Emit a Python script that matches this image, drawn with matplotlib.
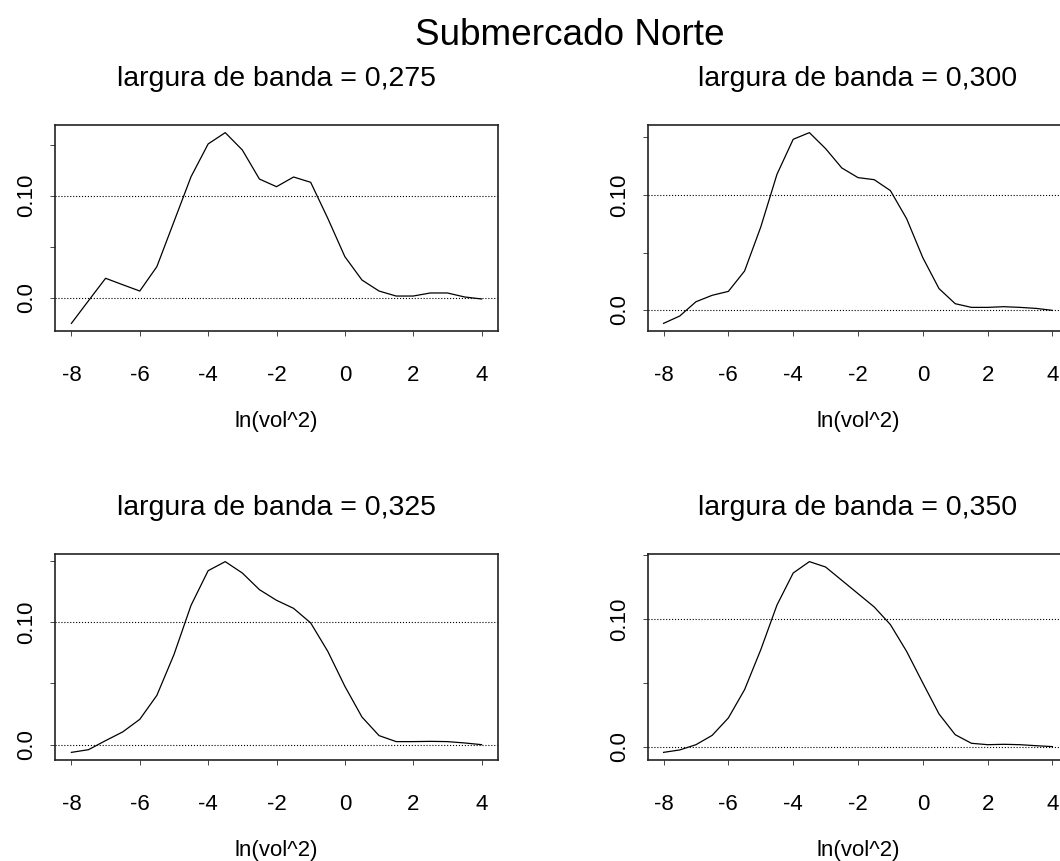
import numpy as np
import matplotlib
matplotlib.use("Agg")
from matplotlib import pyplot as plt

plt.rcParams["font.family"] = ["Liberation Sans", "DejaVu Sans"]

# evaluation grid of ln(vol^2)
x_grid = [-8.0, -7.5, -7.0, -6.5, -6.0, -5.5, -5.0, -4.5, -4.0, -3.5, -3.0, -2.5,
          -2.0, -1.5, -1.0, -0.5, 0.0, 0.5, 1.0, 1.5, 2.0, 2.5, 3.0, 3.5, 4.0]

bandwidths = ["0,275", "0,300", "0,325", "0,350"]

dens_275 = [-0.0252, -0.0030, 0.0190, 0.0127, 0.0065, 0.0304, 0.0745, 0.1186, 0.1507,
            0.1618, 0.1448, 0.1163, 0.1088, 0.1183, 0.1131, 0.0778, 0.0402, 0.0173,
            0.0065, 0.0016, 0.0016, 0.0046, 0.0046, 0.0007, -0.0013]
dens_300 = [-0.0116, -0.0052, 0.0072, 0.0128, 0.0162, 0.0339, 0.0722, 0.1180, 0.1484,
            0.1542, 0.1403, 0.1235, 0.1151, 0.1133, 0.1038, 0.0794, 0.0455, 0.0186,
            0.0055, 0.0023, 0.0023, 0.0029, 0.0023, 0.0014, -0.0003]
dens_325 = [-0.0063, -0.0041, 0.0033, 0.0104, 0.0207, 0.0403, 0.0736, 0.1139, 0.1422,
            0.1496, 0.1403, 0.1267, 0.1180, 0.1114, 0.0995, 0.0763, 0.0477, 0.0226,
            0.0074, 0.0025, 0.0025, 0.0027, 0.0025, 0.0014, 0.0000]
dens_350 = [-0.0042, -0.0023, 0.0018, 0.0091, 0.0227, 0.0448, 0.0760, 0.1109, 0.1359,
            0.1448, 0.1406, 0.1302, 0.1198, 0.1094, 0.0956, 0.0747, 0.0500, 0.0258,
            0.0096, 0.0029, 0.0018, 0.0021, 0.0018, 0.0010, 0.0003]

x_ticks = [-8, -6, -4, -2, 0, 2, 4]
y_ticks = [0.0, 0.05, 0.10, 0.15]
y_tick_labels = ["0.0", "", "0.10", ""]
ref_lines = [0.0, 0.10]

W, H = 1060, 861
# axes boxes in pixels: left, right, top, bottom
boxes = [(55, 498, 125, 331), (648, 1068, 125, 331),
         (55, 498, 554, 760), (648, 1068, 554, 760)]

fig = plt.figure(figsize=(W / 100, H / 100), dpi=100)

for dens, bw, (l, r, t, b) in zip([dens_275, dens_300, dens_325, dens_350], bandwidths, boxes):
    ax = fig.add_axes([l / W, 1 - b / H, (r - l) / W, (b - t) / H])
    ax.plot(x_grid, dens, color="black", lw=0.9)

    # R-style 4% padding around data range
    lo, hi = min(dens), max(dens)
    pad = 0.04 * (hi - lo)
    ax.set_ylim(lo - pad, hi + pad)
    ax.set_xlim(-8 - 0.48, 4 + 0.48)

    for yv in ref_lines:
        ax.axhline(yv, ls=":", color="black", lw=0.8)

    ax.set_xticks(x_ticks)
    ax.set_xticklabels([str(v) for v in x_ticks])
    ax.set_yticks(y_ticks)
    ax.set_yticklabels(y_tick_labels, rotation=90, va="center")
    ax.tick_params(direction="out", length=3.6, width=0.7, color="#444444",
                   labelsize=16, labelcolor="black")
    ax.tick_params(axis="x", pad=21)
    ax.tick_params(axis="y", pad=9.5)

    for sp in ax.spines.values():
        sp.set_linewidth(1.2)
        sp.set_color("#222222")

    ax.set_title(f"largura de banda = {bw}", fontsize=20.5, pad=28)
    ax.set_xlabel("ln(vol^2)", fontsize=16)
    ax.xaxis.set_label_coords(0.5, -80 / (b - t))

fig.text(570 / W, 1 - 45 / H, "Submercado Norte", ha="center", va="baseline", fontsize=26.6)

fig.savefig("out.png", dpi=100)
